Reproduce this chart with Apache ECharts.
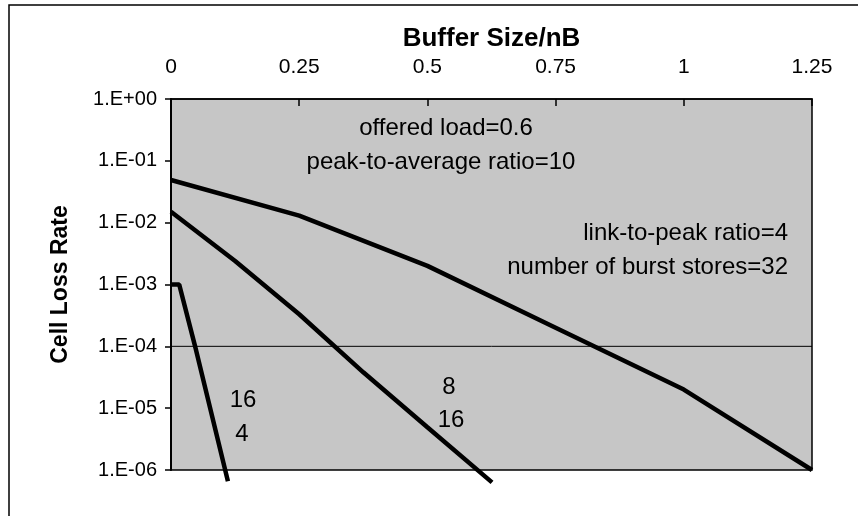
<!DOCTYPE html>
<html>
<head>
<meta charset="utf-8">
<script src="https://cdn.jsdelivr.net/npm/echarts@6/dist/echarts.min.js"></script>
<style>
  html, body { margin: 0; padding: 0; background: #fff; }
  #chart { width: 858px; height: 516px; }
</style>
</head>
<body>
<div id="chart"></div>
<script>
    // buffer size / nB against cell loss rate
    var upperX = [0, 0.25, 0.5, 0.75, 1.0, 1.25]
    var upperY = [4.9e-2, 1.3e-2, 2.0e-3, 2.0e-4, 2.0e-5, 1.0e-6]

    var middleX = [0, 0.125, 0.25, 0.375, 0.5, 0.626]
    var middleY = [1.5e-2, 2.4e-3, 3.3e-4, 3.8e-5, 4.9e-6, 6.3e-7]

    var leftX = [0, 0.016, 0.047, 0.111]
    var leftY = [1.0e-3, 1.0e-3, 1.0e-4, 6.6e-7]

    // the only grid line in the original
    var refX = [0, 1.25]
    var refY = [1e-4, 1e-4]

    var notes = ['offered load=0.6', 'peak-to-average ratio=10', 'link-to-peak ratio=4', 'number of burst stores=32']
    var curveTags = ['16', '4', '8', '16']

    var font = '"Liberation Sans", Arial, Helvetica, sans-serif'

    function pairs(xs, ys) {
        var out = []
        for (var i = 0; i < xs.length; i++) {
            out.push([xs[i], ys[i]])
        }
        return out
    }

    function lossLabel(value) {
        var e = Math.round(Math.log10(value))
        var s = e < 0 ? '-' : '+'
        return '1.E' + s + String(Math.abs(e)).padStart(2, '0')
    }

    function curve(name, data, width, z) {
        return {
            name: name,
            type: 'line',
            data: data,
            showSymbol: false,
            symbol: 'none',
            clip: false,
            lineStyle: { color: '#000', width: width },
            silent: true,
            z: z
        }
    }

    function note(text, x, y, align, size) {
        return {
            type: 'text',
            x: x,
            y: y,
            z: 10,
            style: {
                text: text,
                fill: '#000',
                font: size + 'px ' + font,
                align: align,
                verticalAlign: 'middle'
            }
        }
    }

    var option = {
        animation: false,
        backgroundColor: '#fff',
        grid: {
            left: 171,
            right: 46,
            top: 99,
            bottom: 46,
            show: true,
            backgroundColor: '#c6c6c6',
            borderColor: '#000',
            borderWidth: 1.5
        },
        xAxis: {
            type: 'value',
            position: 'top',
            min: 0,
            max: 1.25,
            interval: 0.25,
            name: 'Buffer Size/nB',
            nameLocation: 'middle',
            nameGap: 46,
            nameTextStyle: { fontFamily: font, fontSize: 26, fontWeight: 'bold', color: '#000' },
            axisLine: { lineStyle: { color: '#000', width: 1.5 } },
            axisTick: { inside: true, length: 7, lineStyle: { color: '#000', width: 1.5 } },
            axisLabel: { fontFamily: font, fontSize: 21, color: '#000', margin: 21 },
            splitLine: { show: false }
        },
        yAxis: {
            type: 'log',
            logBase: 10,
            min: 1e-6,
            max: 1,
            splitNumber: 6,
            name: 'Cell Loss Rate',
            nameLocation: 'middle',
            nameGap: 99,
            nameTextStyle: { fontFamily: font, fontSize: 23, fontWeight: 'bold', color: '#000' },
            axisLine: { lineStyle: { color: '#000', width: 2 } },
            axisTick: { length: 6, lineStyle: { color: '#000', width: 1.5 } },
            axisLabel: { fontFamily: font, fontSize: 20, color: '#000', margin: 14, formatter: lossLabel },
            splitLine: { show: false },
            minorTick: { show: false }
        },
        series: [
            curve('1E-4 line', pairs(refX, refY), 1, 3),
            curve('upper', pairs(upperX, upperY), 4.5, 5),
            curve('middle', pairs(middleX, middleY), 4.5, 5),
            curve('left', pairs(leftX, leftY), 4.5, 5)
        ],
        graphic: [
            { type: 'rect', shape: { x: 9, y: 5, width: 900, height: 600 }, style: { fill: 'none', stroke: '#000', lineWidth: 1.5 }, z: 0, silent: true },
            note(notes[0], 446, 128, 'center', 24),
            note(notes[1], 441, 162, 'center', 24),
            note(notes[2], 788, 233, 'right', 24),
            note(notes[3], 788, 267, 'right', 24),
            note(curveTags[0], 243, 400, 'center', 24),
            note(curveTags[1], 242, 434, 'center', 24),
            note(curveTags[2], 449, 387, 'center', 24),
            note(curveTags[3], 451, 420, 'center', 24)
        ]
    }

    echarts.init(document.getElementById('chart')).setOption(option)
</script>
</body>
</html>
